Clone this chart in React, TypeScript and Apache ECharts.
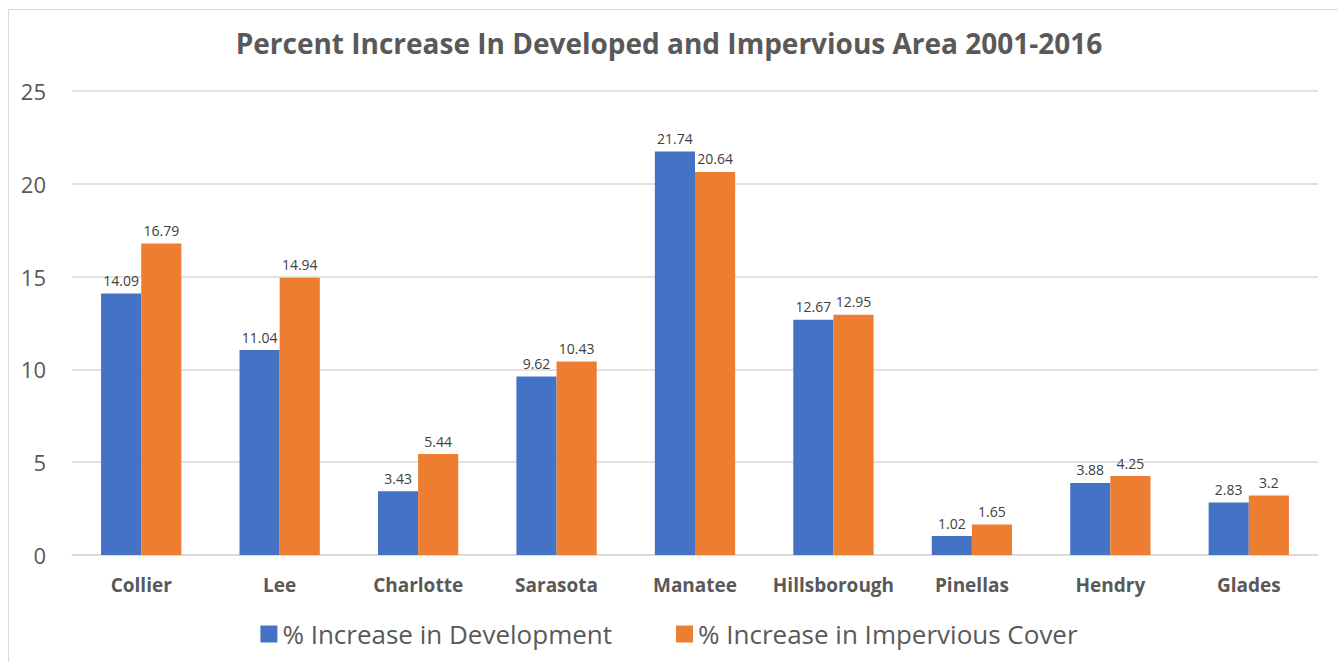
import React, { useEffect, useRef } from "react";
import * as echarts from "echarts";

const categories = ["Collier", "Lee", "Charlotte", "Sarasota", "Manatee", "Hillsborough", "Pinellas", "Hendry", "Glades"];
const development = [14.09, 11.04, 3.43, 9.62, 21.74, 12.67, 1.02, 3.88, 2.83];
const impervious = [16.79, 14.94, 5.44, 10.43, 20.64, 12.95, 1.65, 4.25, 3.2];
const seriesNames = ["% Increase in Development", "% Increase in Impervious Cover"];
const titleText = "Percent Increase In Developed and Impervious Area 2001-2016";

const FONT = "'Open Sans', 'Noto Sans', sans-serif";

export default function App() {
  const ref = useRef<HTMLDivElement>(null);
  useEffect(() => {
    if (!ref.current) return;
    const chart = echarts.init(ref.current, undefined, { renderer: "svg" });
    const labelStyle = {
      show: true,
      position: "top" as const,
      color: "#404040",
      fontSize: 14,
      fontFamily: FONT,
      distance: 6,
    };
    chart.setOption({
      animation: false,
      backgroundColor: "#ffffff",
      graphic: [
        {
          type: "rect",
          shape: { x: 8.5, y: 9.5, width: 1340, height: 700 },
          style: { fill: "none", stroke: "#d9d9d9", lineWidth: 1 },
          silent: true,
        },
      ],
      title: {
        text: titleText,
        left: "center",
        top: 24,
        textStyle: { fontSize: 28, fontWeight: "bold", color: "#595959", fontFamily: FONT },
      },
      grid: { left: 72, right: 20, top: 91, bottom: 107, containLabel: false },
      legend: {
        bottom: 10,
        left: "center",
        itemWidth: 17,
        itemHeight: 17,
        itemGap: 64,
        icon: "rect",
        textStyle: { fontSize: 26, color: "#595959", fontFamily: FONT },
        data: seriesNames,
      },
      xAxis: {
        type: "category",
        data: categories,
        axisLine: { show: true, lineStyle: { color: "#d9d9d9", width: 1.5 } },
        axisTick: { show: false },
        axisLabel: { color: "#595959", fontSize: 19, fontWeight: "bold", fontFamily: FONT, margin: 20, interval: 0 },
      },
      yAxis: {
        type: "value",
        min: 0,
        max: 25,
        interval: 5,
        axisLine: { show: false },
        axisTick: { show: false },
        splitLine: { lineStyle: { color: "#d9d9d9", width: 1.5 } },
        axisLabel: { color: "#595959", fontSize: 22, fontFamily: FONT, margin: 26 },
      },
      series: [
        {
          name: seriesNames[0],
          type: "bar",
          data: development,
          itemStyle: { color: "#4472C4" },
          barGap: "0%",
          barCategoryGap: "42%",
          label: labelStyle,
        },
        {
          name: seriesNames[1],
          type: "bar",
          data: impervious,
          itemStyle: { color: "#ED7D31" },
          barGap: "0%",
          barCategoryGap: "42%",
          label: labelStyle,
        },
      ],
    });
    return () => chart.dispose();
  }, []);
  return (
    <div
      ref={ref}
      style={{ position: "fixed", left: 0, top: 0, width: 1338, height: 662, background: "#fff" }}
    />
  );
}
